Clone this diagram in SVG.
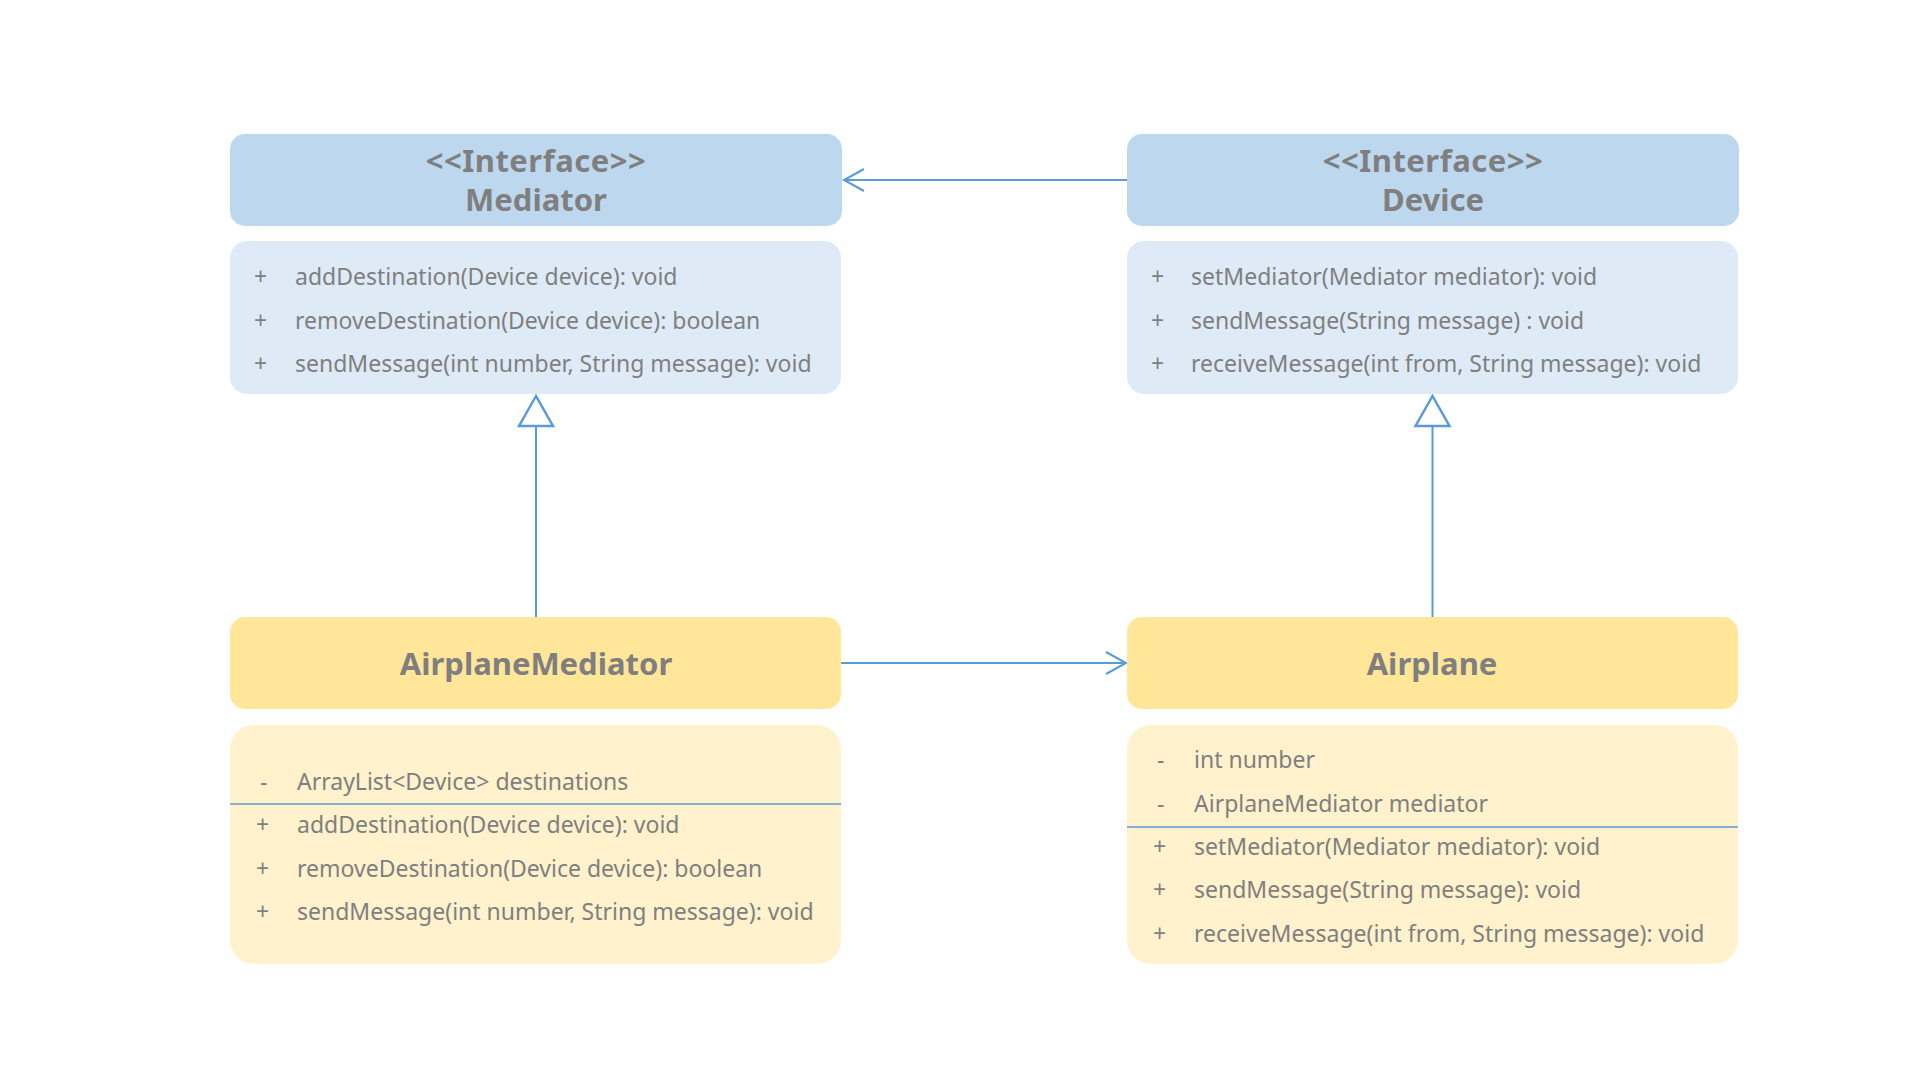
<svg xmlns="http://www.w3.org/2000/svg" width="1920" height="1082" viewBox="0 0 1920 1082">
<style>
.hdrB{fill:#BDD7EE}
.bodyB{fill:#DEEBF7}
.hdrY{fill:#FFE699}
.bodyY{fill:#FFF2CC}
.title{font-family:"Noto Sans","Liberation Sans",sans-serif;font-weight:bold;font-size:31px;fill:#7F7F7F;text-anchor:middle}
.mem{font-family:"Noto Sans","Liberation Sans",sans-serif;font-size:23px;fill:#7F7F7F}
.conn{stroke:#5B9BD5;stroke-width:2;fill:none}
.div{stroke:#5B9BD5;stroke-width:1.5}
</style>
<defs>
<marker id="open" markerWidth="24" markerHeight="26" refX="21" refY="12" orient="auto" markerUnits="userSpaceOnUse">
<path d="M1,1 L21,12 L1,23" fill="none" stroke="#5B9BD5" stroke-width="2"/>
</marker>
</defs>
<rect width="1920" height="1082" fill="#FFFFFF"/>
<g id="connectors">
<line class="conn" x1="1127" y1="180" x2="844" y2="180" marker-end="url(#open)"/>
<line class="conn" x1="841" y1="663" x2="1126" y2="663" marker-end="url(#open)"/>
<line class="conn" x1="536" y1="426" x2="536" y2="617"/>
<polygon points="536,396 519,426 553,426" fill="#FFFFFF" stroke="#5B9BD5" stroke-width="2.5"/>
<line class="conn" x1="1432.5" y1="426" x2="1432.5" y2="617"/>
<polygon points="1432.5,396 1415.5,426 1449.5,426" fill="#FFFFFF" stroke="#5B9BD5" stroke-width="2.5"/>
</g>
<g id="mediator">
<rect class="hdrB" x="230" y="134" width="612" height="92" rx="15"/>
<text class="title" x="536" y="172" letter-spacing="0.5">&lt;&lt;Interface&gt;&gt;</text>
<text class="title" x="536" y="211">Mediator</text>
<rect class="bodyB" x="230" y="241" width="611" height="153" rx="17"/>
<text class="mem" x="254" y="285">+</text><text class="mem" x="295" y="285">addDestination(Device device): void</text>
<text class="mem" x="254" y="329">+</text><text class="mem" x="295" y="329">removeDestination(Device device): boolean</text>
<text class="mem" x="254" y="372">+</text><text class="mem" x="295" y="372">sendMessage(int number, String message): void</text>
</g>
<g id="device">
<rect class="hdrB" x="1127" y="134" width="612" height="92" rx="15"/>
<text class="title" x="1433" y="172" letter-spacing="0.5">&lt;&lt;Interface&gt;&gt;</text>
<text class="title" x="1433" y="211">Device</text>
<rect class="bodyB" x="1127" y="241" width="611" height="153" rx="17"/>
<text class="mem" x="1151" y="285">+</text><text class="mem" x="1191" y="285">setMediator(Mediator mediator): void</text>
<text class="mem" x="1151" y="329">+</text><text class="mem" x="1191" y="329">sendMessage(String message) : void</text>
<text class="mem" x="1151" y="372">+</text><text class="mem" x="1191" y="372">receiveMessage(int from, String message): void</text>
</g>
<g id="airplaneMediator">
<rect class="hdrY" x="230" y="617" width="611" height="92" rx="15"/>
<text class="title" x="536" y="675">AirplaneMediator</text>
<rect class="bodyY" x="230" y="725" width="611" height="239" rx="24"/>
<text class="mem" x="260" y="790">-</text><text class="mem" x="297" y="790">ArrayList&lt;Device&gt; destinations</text>
<line class="div" x1="230" y1="804" x2="841" y2="804"/>
<text class="mem" x="256" y="833">+</text><text class="mem" x="297" y="833">addDestination(Device device): void</text>
<text class="mem" x="256" y="877">+</text><text class="mem" x="297" y="877">removeDestination(Device device): boolean</text>
<text class="mem" x="256" y="920">+</text><text class="mem" x="297" y="920">sendMessage(int number, String message): void</text>
</g>
<g id="airplane">
<rect class="hdrY" x="1127" y="617" width="611" height="92" rx="15"/>
<text class="title" x="1432" y="675">Airplane</text>
<rect class="bodyY" x="1127" y="725" width="611" height="239" rx="24"/>
<text class="mem" x="1157" y="768">-</text><text class="mem" x="1194" y="768">int number</text>
<text class="mem" x="1157" y="812">-</text><text class="mem" x="1194" y="812">AirplaneMediator mediator</text>
<line class="div" x1="1127" y1="827" x2="1738" y2="827"/>
<text class="mem" x="1153" y="855">+</text><text class="mem" x="1194" y="855">setMediator(Mediator mediator): void</text>
<text class="mem" x="1153" y="898">+</text><text class="mem" x="1194" y="898">sendMessage(String message): void</text>
<text class="mem" x="1153" y="942">+</text><text class="mem" x="1194" y="942">receiveMessage(int from, String message): void</text>
</g>
</svg>
